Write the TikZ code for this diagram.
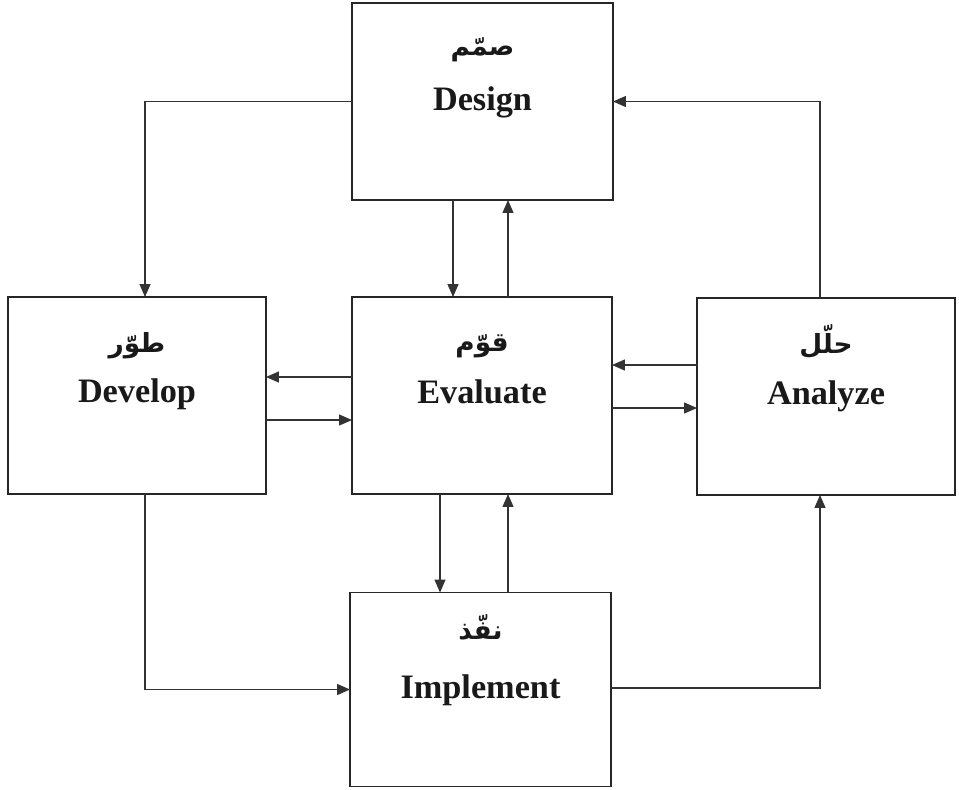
\documentclass[tikz,border=0pt]{standalone}
\usepackage{fontspec}
\usetikzlibrary{arrows.meta,calc}
\setmainfont{Liberation Serif}
\newfontfamily\arabicfont[Script=Arabic]{DejaVu Sans}
\TeXXeTstate=1
\tikzset{
  stage/.style={draw=black!85, line width=0.03cm, minimum width=5.2cm,
    minimum height=3.94cm, inner sep=0pt, outer sep=0pt, fill=white},
  entitle/.style={anchor=base, inner sep=1pt, font=\fontsize{19.5}{22}\selectfont\bfseries, text=black!90},
  artitle/.style={anchor=base, inner sep=1pt, font=\arabicfont\fontsize{15}{17}\selectfont\bfseries, text=black!90},
  link/.style={draw=black!80, line width=0.025cm,
    -{Triangle[length=0.26cm,width=0.22cm]}}
}
\begin{document}
\begin{tikzpicture}[x=0.02cm,y=-0.02cm]
  \useasboundingbox (0,0) rectangle (959,789);
  % the five stages
  \node[stage, minimum width=5.22cm, minimum height=3.94cm] (design)    at (482.5,101.5) {};
  \node[stage, minimum width=5.16cm, minimum height=3.94cm] (develop)   at (137,395.5) {};
  \node[stage, minimum width=5.20cm, minimum height=3.94cm] (evaluate)  at (482,395.5) {};
  \node[stage, minimum width=5.16cm, minimum height=3.94cm] (analyze)   at (826,396.5) {};
  \node[stage, minimum width=5.22cm, minimum height=3.88cm] (implement) at (480.5,689.5) {};
  % English titles
  \node[entitle] (designEn)    at ($(design.center)+(0,8.5)$) {Design};
  \node[entitle] (developEn)   at ($(develop.center)+(0,6.5)$) {Develop};
  \node[entitle] (evaluateEn)  at ($(evaluate.center)+(0,7.5)$) {Evaluate};
  \node[entitle] (analyzeEn)   at ($(analyze.center)+(0,7.5)$) {Analyze};
  \node[entitle] (implementEn) at ($(implement.center)+(0,9)$) {Implement};
  % Arabic titles
  \node[artitle] (designAr)    at ($(design.center)+(0,-46)$) {\beginR صمّم\endR};
  \node[artitle] (developAr)   at ($(develop.center)+(0,-43)$) {\beginR طوّر\endR};
  \node[artitle] (evaluateAr)  at ($(evaluate.center)+(0,-44)$) {\beginR قوّم\endR};
  \node[artitle] (analyzeAr)   at ($(analyze.center)+(0,-43)$) {\beginR حلّل\endR};
  \node[artitle] (implementAr) at ($(implement.center)+(0,-50)$) {\beginR نفّذ\endR};
  % outer loop
  \draw[link] (design.west) -| ($(develop.north)+(8,0)$);
  \draw[link] ($(analyze.north)+(-6,0)$) |- (design.east);
  \draw[link] ($(develop.south)+(8,0)$) |- (implement.west);
  \draw[link] ($(implement.east)+(0,-1.5)$) -| ($(analyze.south)+(-6,0)$);
  % links to and from Evaluate
  \draw[link] ($(design.south)+(-29.5,0)$) coordinate (dsA) -- (dsA |- evaluate.north);
  \draw[link] ($(evaluate.north)+(26,0)$) coordinate (evA) -- (evA |- design.south);
  \draw[link] ($(evaluate.west)+(0,-18.5)$) coordinate (evB) -- (evB -| develop.east);
  \draw[link] ($(develop.east)+(0,24.5)$) coordinate (dvA) -- (dvA -| evaluate.west);
  \draw[link] ($(analyze.west)+(0,-31.5)$) coordinate (anA) -- (anA -| evaluate.east);
  \draw[link] ($(evaluate.east)+(0,12.5)$) coordinate (evC) -- (evC -| analyze.west);
  \draw[link] ($(evaluate.south)+(-42,0)$) coordinate (evD) -- (evD |- implement.north);
  \draw[link] ($(implement.north)+(27.5,0)$) coordinate (imA) -- (imA |- evaluate.south);
\end{tikzpicture}
\end{document}
